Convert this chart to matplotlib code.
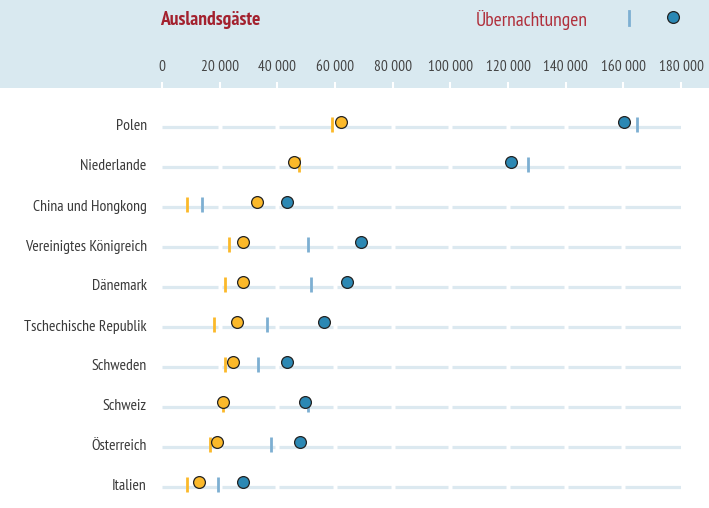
import matplotlib
matplotlib.use("Agg")
import matplotlib.pyplot as plt
from matplotlib import font_manager

names = {f.name for f in font_manager.fontManager.ttflist}
FONT = "PT Sans Narrow" if "PT Sans Narrow" in names else "DejaVu Sans"
plt.rcParams['font.family'] = [FONT, 'DejaVu Sans']

countries = ["Polen", "Niederlande", "China und Hongkong", "Vereinigtes Königreich",
             "Dänemark", "Tschechische Republik", "Schweden", "Schweiz",
             "Österreich", "Italien"]
gaeste_now = [62000, 45800, 33100, 28200, 28000, 26100, 24600, 21300, 19200, 12900]
gaeste_prev = [58900, 47600, 8600, 23400, 22000, 18000, 21700, 21000, 16500, 8700]
naechte_now = [160200, 120900, 43200, 68900, 64200, 56300, 43200, 49500, 48000, 28100]
naechte_prev = [164900, 126800, 13800, 50800, 51700, 36500, 33400, 50500, 37800, 19500]
xticks = list(range(0, 180001, 20000))
xticklabels = ["0"] + [f"{v//1000} 000" for v in xticks[1:]]

W, H = 709, 508
fig = plt.figure(figsize=(W/100, H/100), dpi=100)

YEL = "#FBB92A"
BLUE = "#2B88B4"
BTICK = "#7DAFD2"
LINE = "#DCE9F0"
HEAD = "#D9E9F0"

# header band (background axes, drawn first)
hax = fig.add_axes([0, 1 - 88/H, 1, 88/H], zorder=0)
hax.set_xlim(0, W)
hax.set_ylim(88, 0)
hax.set_facecolor(HEAD)
hax.set_xticks([]); hax.set_yticks([])
for s in hax.spines.values():
    s.set_visible(False)
hax.plot([629, 629], [11, 25], color=BTICK, lw=2)
hax.plot([673], [17], "o", ms=8.5, mfc=BLUE, mec="#222222", mew=0.9)
hax.text(160, 20, "Auslandsgäste", fontsize=14, fontweight="bold", fontstretch="condensed",
         color="#A3212E", va="center", ha="left")
hax.text(588, 20, "Übernachtungen", fontsize=14, color="#B0303C",
         va="center", ha="right")

ax = fig.add_axes([162/W, 0, 519/W, (H-88)/H], zorder=1)
ax.set_xlim(0, 180000)
ax.set_ylim((508-127)/40, (88-127)/40)
ax.patch.set_alpha(0)
for s in ax.spines.values():
    s.set_visible(False)

gap = 700
for i in range(len(countries)):
    for k in range(9):
        x0 = k*20000 + (gap if k > 0 else 0)
        x1 = (k+1)*20000 - (gap if k < 8 else 0)
        ax.plot([x0, x1], [i, i], color=LINE, lw=2.3, solid_capstyle="butt", zorder=1)

ys = list(range(len(countries)))
ax.vlines(gaeste_prev, [y-0.25 for y in ys], [y+0.125 for y in ys], color=YEL, lw=2, zorder=2)
ax.vlines(naechte_prev, [y-0.25 for y in ys], [y+0.125 for y in ys], color=BTICK, lw=2, zorder=2)
ax.plot(gaeste_now, [y-0.125 for y in ys], "o", ms=8.5, mfc=YEL, mec="#222222", mew=0.9, ls="none", zorder=3)
ax.plot(naechte_now, [y-0.125 for y in ys], "o", ms=8.5, mfc=BLUE, mec="#222222", mew=0.9, ls="none", zorder=3)

ax.set_yticks([y - 0.05 for y in ys])
ax.set_yticklabels(countries, fontsize=11.3, color="#3a3a3a")
ax.tick_params(axis="y", length=0, pad=11)

ax.set_xticks(xticks)
ax.set_xticklabels(xticklabels, fontsize=11, color="#444444")
ax.xaxis.tick_top()
ax.tick_params(axis="x", direction="out", length=4, width=1.5, color="white", pad=6)

fig.savefig("out.png", dpi=100)
